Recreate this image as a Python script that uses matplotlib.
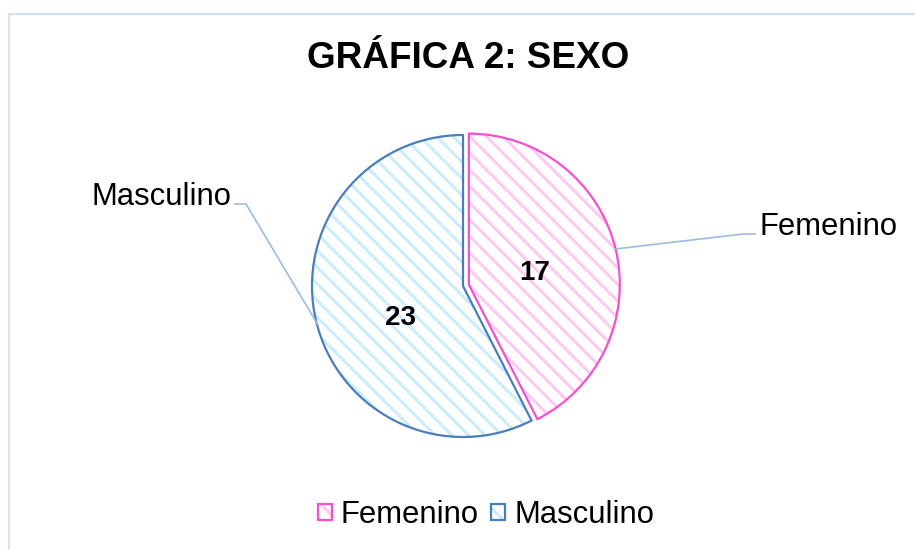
import matplotlib
matplotlib.use("Agg")
import matplotlib.pyplot as plt
from matplotlib.patches import Patch, Rectangle
from matplotlib.legend_handler import HandlerTuple

categorias = ["Femenino", "Masculino"]
valores = [17, 23]
etiquetas_datos = ["17", "23"]
titulo = "GRÁFICA 2: SEXO"

color_borde = ["#f64fcf", "#4a7ebb"]
color_rayado = ["#fccbef", "#cdecfb"]
color_guia = "#9bbbe3"

plt.rcParams["font.family"] = ["Liberation Sans", "DejaVu Sans"]
plt.rcParams["hatch.linewidth"] = 2.2

DPI = 100
fig = plt.figure(figsize=(915 / DPI, 550 / DPI), dpi=DPI)
ax = fig.add_axes((0, 0, 1, 1))

centro = (463, 264)
radio = 151
explode = [6, 0]  # en unidades de datos

# fondo rayado (el rayado toma el color del borde, por eso va en otra capa)
fondo, _ = ax.pie(valores, explode=explode, startangle=90, counterclock=False,
                  center=centro, radius=radio, colors=["white", "white"],
                  wedgeprops=dict(linewidth=0, hatch="\\\\"))
for w, c in zip(fondo, color_rayado):
    w.set_edgecolor(c)

borde, _ = ax.pie(valores, explode=explode, startangle=90, counterclock=False,
                  center=centro, radius=radio,
                  wedgeprops=dict(fill=False, linewidth=1.6))
for w, c in zip(borde, color_borde):
    w.set_edgecolor(c)

ax.set_xlim(0, 915)
ax.set_ylim(0, 550)
ax.set_aspect("equal")
ax.axis("off")

# etiquetas de datos
ax.text(535, 277, etiquetas_datos[0], ha="center", va="center",
        fontsize=20, fontweight="bold")
ax.text(400, 232, etiquetas_datos[1], ha="center", va="center",
        fontsize=20, fontweight="bold")

# etiquetas de categoría con líneas guía
ax.plot([615, 743, 755], [301, 316, 316], color=color_guia, lw=1.2)
ax.text(759, 323, categorias[0], ha="left", va="center", fontsize=22.3)
ax.plot([318, 246, 235], [225, 346, 346], color=color_guia, lw=1.2)
ax.text(231, 353, categorias[1], ha="right", va="center", fontsize=22.3)

ax.text(468, 492, titulo, ha="center", va="center", fontsize=26.6,
        fontweight="bold")

# marco del gráfico
ax.add_patch(Rectangle((8.5, -20), 1000, 550 - 13.5 + 20, fill=False,
                       edgecolor="#d5e3f3", lw=1.6, clip_on=False))

handles = []
for cr, cb in zip(color_rayado, color_borde):
    handles.append((Patch(facecolor="white", edgecolor=cr, hatch="\\\\", lw=0),
                    Patch(fill=False, edgecolor=cb, lw=1.6)))
ax.legend(handles, categorias, handler_map={tuple: HandlerTuple(ndivide=1)},
          loc="center", bbox_to_anchor=(486 / 915, 35 / 550), ncol=2,
          frameon=False, fontsize=22.3, handlelength=0.45, handleheight=0.45,
          handletextpad=0.3, columnspacing=0.4, borderpad=0)

fig.savefig("out.png", dpi=DPI, facecolor="white")
